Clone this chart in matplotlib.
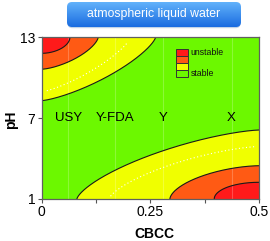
import numpy as np
import matplotlib
matplotlib.use("Agg")
import matplotlib.pyplot as plt
from matplotlib.patches import FancyBboxPatch, Polygon, Rectangle

plt.rcParams['font.family'] = ['Liberation Sans', 'DejaVu Sans']

# ---- data ----
x_range = [0.0, 0.5]                 # CBCC
y_range = [1, 13]                    # pH
x_ticks = [0, 0.25, 0.5]
x_tick_labels = ['0', '0.25', '0.5']
x_minor_ticks = [0.125, 0.375]
y_ticks = [1, 7, 13]
y_tick_labels = ['1', '7', '13']

zone_colors = ['#FF1A1A', '#FF5A14', '#F0FF00', '#6CF800']   # unstable -> stable
zone_labels = ['unstable', '', '', 'stable']

# top-left instability lobe (corner CBCC=0, pH=13): boundaries inner -> outer
tl_corner = (0.0, 13.0)
tl_x_extent = [0.065, 0.130, 0.262]
tl_y_extent = [1.19, 2.37, 4.70]
tl_shape = [1.9, 1.5, 1.35]
# bottom-right instability lobe (corner CBCC=0.5, pH=1)
br_corner = (0.5, 1.0)
br_x_extent = [0.103, 0.205, 0.419]
br_y_extent = [1.24, 2.47, 5.12]
br_shape = [2.0, 1.7, 1.43]

# dotted white guide lines inside the yellow bands
tl_dot = dict(x_extent=0.205, y_extent=4.04, shape=1.3)
br_dot = dict(x_extent=0.345, y_extent=3.90, shape=1.45)

zeolites = ['USY', 'Y-FDA', 'Y', 'X']
zeolite_cbcc = [0.061, 0.168, 0.279, 0.437]
label_ph = 7.0

title = 'atmospheric liquid water'


def arc(corner, ax_, ay_, p, sx, sy, t0=0.0, t1=np.pi / 2, n=200):
    t = np.linspace(t0, t1, n)
    dx = ax_ * np.cos(t) ** (2.0 / p)
    dy = ay_ * np.sin(t) ** (2.0 / p)
    return corner[0] + sx * dx, corner[1] + sy * dy


W, H = 270, 241
fig = plt.figure(figsize=(W / 100, H / 100), dpi=100)
ax = fig.add_axes([41.7 / W, 1 - 199 / H, (259 - 41.7) / W, (199 - 37.3) / H])
ax.set_xlim(*x_range)
ax.set_ylim(*y_range)
ax.set_facecolor(zone_colors[3])

# lobes, outer first
for corner, xe, ye, sh, sx, sy in [
    (tl_corner, tl_x_extent, tl_y_extent, tl_shape, 1, -1),
    (br_corner, br_x_extent, br_y_extent, br_shape, -1, 1),
]:
    for i in [2, 1, 0]:
        xs, ys = arc(corner, xe[i], ye[i], sh[i], sx, sy)
        poly = np.column_stack([np.r_[corner[0], xs], np.r_[corner[1], ys]])
        ax.add_patch(Polygon(poly, closed=True, facecolor=zone_colors[i],
                             edgecolor='none', zorder=1 + (3 - i)))
        ax.plot(xs, ys, color='#1a1a1a', lw=0.8, zorder=6)

# dotted guide lines
xs, ys = arc(tl_corner, tl_dot['x_extent'], tl_dot['y_extent'], tl_dot['shape'], 1, -1,
             t0=0.25, t1=1.45)
ax.plot(xs, ys, color='white', lw=0.8, ls=(0, (1, 2.2)), zorder=7)
xs, ys = arc(br_corner, br_dot['x_extent'], br_dot['y_extent'], br_dot['shape'], -1, 1,
             t0=0.12, t1=1.5)
ax.plot(xs, ys, color='white', lw=0.8, ls=(0, (1, 2.2)), zorder=7)

# faint vertical reference lines + zeolite labels
for name, xv in zip(zeolites, zeolite_cbcc):
    ax.axvline(xv, color='white', alpha=0.22, lw=0.8, zorder=5)
    ax.text(xv, label_ph, name, ha='center', va='center', fontsize=9.5,
            color='black', zorder=8)

# ticks
ax.set_xticks(x_ticks)
ax.set_xticklabels(x_tick_labels)
ax.set_xticks(x_minor_ticks, minor=True)
ax.set_yticks(y_ticks)
ax.set_yticklabels(y_tick_labels)
ax.tick_params(axis='both', which='both', direction='out', length=3, width=0.8,
               color='#555555', labelsize=10, pad=1.5)
for s in ax.spines.values():
    s.set_color('#606060')
    s.set_linewidth(0.9)
    s.set_zorder(10)

# axis titles
fig.text(154 / W, 1 - 233.5 / H, 'CBCC', ha='center', va='center',
         fontsize=10, fontweight='bold')
fig.text(11 / W, 1 - 120 / H, 'pH', ha='center', va='center', rotation=90,
         fontsize=10, fontweight='bold')

# legend (colour key)
lx0, ly0, lw_, lh = 175.7, 49.3, 12.6, 6.85
for i, c in enumerate(zone_colors):
    fig.patches.append(Rectangle((lx0 / W, 1 - (ly0 + (i + 1) * lh) / H), lw_ / W, lh / H,
                                 transform=fig.transFigure, facecolor=c,
                                 edgecolor='#333333', lw=0.7, zorder=20))
    if zone_labels[i]:
        fig.text((lx0 + lw_ + 2.5) / W, 1 - (ly0 + (i + 0.5) * lh) / H, zone_labels[i],
                 ha='left', va='center', fontsize=6.3, color='#111111', zorder=21)

# title button with vertical gradient (axes in pixel units)
bx0, by0, bx1, by1 = 66, 1.5, 242, 28.5
bw, bh = bx1 - bx0, by1 - by0
tax = fig.add_axes([bx0 / W, 1 - by1 / H, bw / W, bh / H])
tax.set_xlim(0, bw)
tax.set_ylim(0, bh)
tax.axis('off')
# soft shadow
shadow = FancyBboxPatch((1.5, 0.3), bw - 3, bh - 2.3,
                        boxstyle='round,pad=0,rounding_size=5',
                        facecolor='#9ab8d8', edgecolor='none', alpha=0.6, zorder=0)
tax.add_patch(shadow)
grad = np.linspace(0, 1, 64).reshape(-1, 1)
top = np.array(matplotlib.colors.to_rgb('#62b2fb'))
bot = np.array(matplotlib.colors.to_rgb('#1a6ce0'))
img = top[None, None, :] * (1 - grad[:, :, None]) + bot[None, None, :] * grad[:, :, None]
im = tax.imshow(img, extent=[1, bw - 1, 1.5, bh - 0.5], aspect='auto',
                origin='upper', zorder=1)
box = FancyBboxPatch((1, 1.5), bw - 2, bh - 2,
                     boxstyle='round,pad=0,rounding_size=5',
                     transform=tax.transData, facecolor='none', edgecolor='none')
tax.add_patch(box)
im.set_clip_path(box)
tax.set_xlim(0, bw)
tax.set_ylim(0, bh)
tax.text(bw / 2, bh / 2 + 0.8, title, ha='center', va='center', color='white',
         fontsize=8.8, zorder=3)

fig.savefig('out.png', dpi=100)
